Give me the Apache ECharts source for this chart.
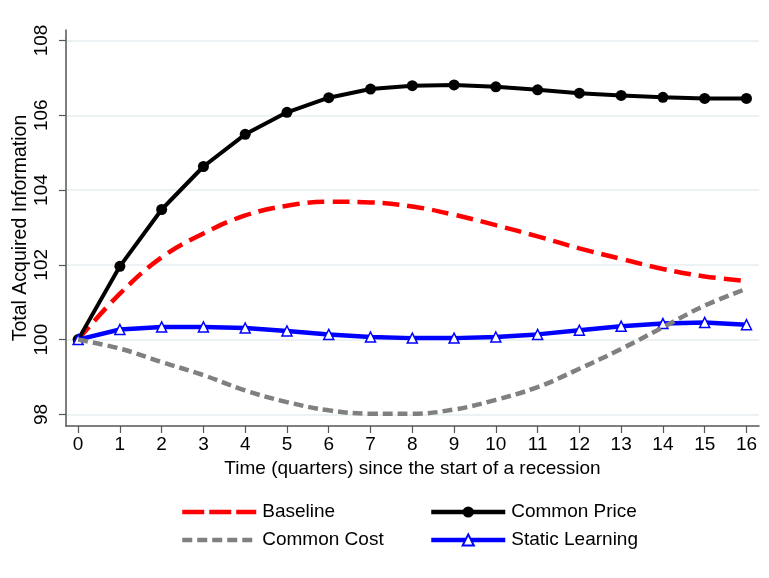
<!DOCTYPE html>
<html>
<head>
<meta charset="utf-8">
<script src="https://cdn.jsdelivr.net/npm/echarts@6/dist/echarts.min.js"></script>
<style>html,body{margin:0;padding:0;background:#fff}#c{width:769px;height:578px}</style>
</head>
<body>
<div id="c"></div>
<script>
const quarters = [0,1,2,3,4,5,6,7,8,9,10,11,12,13,14,15,16];
const xTicks = [0,1,2,3,4,5,6,7,8,9,10,11,12,13,14,15,16];
const yTicks = [98,100,102,104,106,108];
const baseline = [100,101.23,102.2,102.84,103.32,103.58,103.69,103.67,103.56,103.34,103.06,102.76,102.44,102.16,101.89,101.69,101.57];
const commonPrice = [100,101.96,103.48,104.63,105.49,106.08,106.47,106.70,106.79,106.81,106.76,106.68,106.59,106.53,106.48,106.45,106.45];
const commonCost = [100,99.76,99.40,99.05,98.64,98.33,98.11,98.02,98.02,98.13,98.39,98.73,99.22,99.75,100.33,100.91,101.36];
const staticLearning = [100,100.27,100.34,100.34,100.31,100.23,100.14,100.07,100.04,100.04,100.07,100.14,100.25,100.36,100.43,100.46,100.40];

const pairs = arr => quarters.map((q,i)=>[q,arr[i]]);
const FONT = 'Liberation Sans';
const legendText = {fontSize:19,fontFamily:FONT,color:'#000',lineHeight:20,padding:[0,0,0,1]};
const chart = echarts.init(document.getElementById('c'), null, {renderer:'canvas'});
chart.setOption({
  animation:false,
  backgroundColor:'#fff',
  textStyle:{fontFamily:FONT,color:'#000'},
  grid:{left:66,right:10,top:30,bottom:152,containLabel:false,outerBoundsMode:'none'},
  xAxis:{
    type:'value', min:-0.29, max:16.3,
    name:'Time (quarters) since the start of a recession',
    nameLocation:'middle', nameGap:32,
    nameTextStyle:{fontFamily:FONT,fontSize:19,color:'#000'},
    axisLine:{show:true,onZero:false,lineStyle:{color:'#555',width:1.5}},
    axisTick:{show:true,length:7,customValues:xTicks,lineStyle:{color:'#555',width:1.2}},
    axisLabel:{customValues:xTicks,margin:9,fontSize:19,color:'#000',fontFamily:FONT},
    splitLine:{show:false}
  },
  yAxis:{
    type:'value', min:97.69, max:108.28,
    name:'Total Acquired Information',
    nameLocation:'middle', nameGap:35, nameRotate:90, nameMoveOverlap:false,
    nameTextStyle:{fontFamily:FONT,fontSize:19.5,color:'#000'},
    axisLine:{show:true,onZero:false,lineStyle:{color:'#555',width:1.5}},
    axisTick:{show:true,length:7,customValues:yTicks,lineStyle:{color:'#555',width:1.2}},
    axisLabel:{customValues:yTicks,rotate:90,margin:15,fontSize:19,color:'#000',fontFamily:FONT},
    splitLine:{show:true,lineStyle:{color:'#e6edf1',width:1.5}}
  },
  legend:[
    {data:[
       {name:'Baseline',itemStyle:{opacity:0},lineStyle:{color:'#ff0000',width:4.5,type:[22,5]}},
       {name:'Common Cost',itemStyle:{opacity:0},lineStyle:{color:'#808080',width:4.5,type:[10,5]}}
     ],orient:'vertical',left:175,top:497,
     itemWidth:74,itemHeight:14,itemGap:8,textStyle:legendText},
    {data:[
       {name:'Common Price',lineStyle:{color:'#000',width:4.5}},
       {name:'Static Learning',lineStyle:{color:'#0000ff',width:4.5}}
     ],orient:'vertical',left:424,top:497,
     itemWidth:74,itemHeight:14,itemGap:8,textStyle:legendText}
  ],
  series:[
    {name:'Baseline',type:'line',data:pairs(baseline),smooth:0.4,symbol:'none',
     lineStyle:{color:'#ff0000',width:4.5,type:[17,8]},itemStyle:{color:'#ff0000'},z:2},
    {name:'Common Price',type:'line',data:pairs(commonPrice),symbol:'circle',symbolSize:11,
     lineStyle:{color:'#000',width:4},itemStyle:{color:'#000'},z:3},
    {name:'Common Cost',type:'line',data:pairs(commonCost),smooth:0.4,symbol:'none',
     lineStyle:{color:'#808080',width:4.5,type:[10,5]},itemStyle:{color:'#808080'},z:5},
    {name:'Static Learning',type:'line',data:pairs(staticLearning),symbol:'triangle',symbolSize:10,
     lineStyle:{color:'#0000ff',width:4.5},itemStyle:{color:'#fff',borderColor:'#0000ff',borderWidth:1.5},z:4}
  ]
});
</script>
</body>
</html>
